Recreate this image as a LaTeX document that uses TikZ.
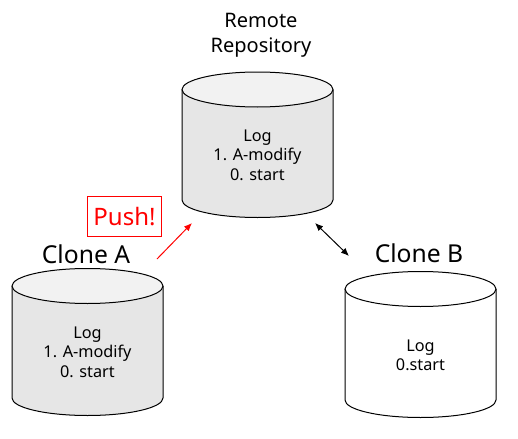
\documentclass[tikz,border=0pt]{standalone}
\usepackage{fontspec}
\setmainfont{Noto Sans}
\usetikzlibrary{arrows.meta,positioning}
\definecolor{cylbody}{HTML}{E6E6E6}
\definecolor{cyltop}{HTML}{F2F2F2}
\definecolor{pushred}{HTML}{FF0000}
\tikzset{
	cylline/.style={draw=black,line width=0.75pt},
	logtext/.style={align=center,font=\fontsize{12.2}{14.5}\selectfont},
	cloneTitle/.style={font=\fontsize{18.5}{19}\selectfont},
	pushbox/.style={draw=pushred,text=pushred,line width=0.75pt,minimum width=56pt,minimum height=30.5pt,font=\fontsize{18}{19}\selectfont},
	link/.style={line width=0.75pt,>={Latex[length=6pt,width=5pt]}}
}
\begin{document}
\begin{tikzpicture}[x=0.75pt,y=-0.75pt]
	\useasboundingbox (0,0) rectangle (518,439);
	% cylinders: centre x / top y / bottom y / body / lid
	\foreach \cx/\ty/\by/\body/\lid in {87.5/286/398/cylbody/cyltop,257.5/89.5/200/cylbody/cyltop,420.5/289/400/white/white} {
		\fill[\body] (\cx-75.5,\ty) -- (\cx-75.5,\by) arc (180:0:75.5 and 17.5) -- (\cx+75.5,\ty) -- cycle;
		\draw[cylline] (\cx-75.5,\ty) -- (\cx-75.5,\by) arc (180:0:75.5 and 17.5) -- (\cx+75.5,\ty);
		\draw[cylline,fill=\lid] (\cx,\ty) ellipse (75.5 and 17.5);
	}
	\node[logtext] (remoteLog) at (257.5,155) {Log\\1. A-modify\\0. start};
	\node[logtext] (cloneALog) at (87.5,352) {Log\\1. A-modify\\0. start};
	\node[logtext] (cloneBLog) at (420.5,355) {Log\\0.start};
	\node[align=center,font=\fontsize{15}{19}\selectfont] (remoteTitle) at (261,35) {Remote\\Repository};
	\node[cloneTitle] (cloneATitle) at (86,254) {Clone A};
	\node[cloneTitle] (cloneBTitle) at (419,253) {Clone B};
	\node[pushbox] (push) at (124.5,216.5) {Push!};
	\coordinate (pushFrom) at (157,259);
	\coordinate (pushTo) at (192,223);
	\coordinate (syncA) at (315,223);
	\coordinate (syncB) at (349,256);
	\draw[link,pushred,->] (pushFrom) -- (pushTo);
	\draw[link,<->] (syncA) -- (syncB);
\end{tikzpicture}
\end{document}
